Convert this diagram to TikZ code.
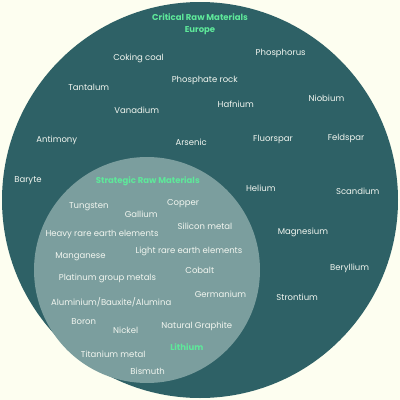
\documentclass[tikz,border=0pt]{standalone}
\usepackage{fontspec}
\setmainfont{Poppins}
\definecolor{bg}{HTML}{FDFEF0}
\definecolor{outer}{HTML}{2E6166}
\definecolor{inner}{HTML}{7B9E9E}
\definecolor{hl}{HTML}{5EE89A}
\definecolor{txt}{HTML}{F2F6F0}
\tikzset{
  mat/.style={text=txt, font=\fontsize{8.5}{11}\selectfont, inner sep=0pt},
  head/.style={text=hl, font=\bfseries\fontsize{8.5}{12}\selectfont, inner sep=0pt, align=center},
}
\begin{document}
\begin{tikzpicture}[x=1pt,y=-1pt]
\useasboundingbox (0,0) rectangle (400,400);
\fill[bg] (0,0) rectangle (400,400);
\fill[outer] (200,200) circle[radius=198];
\fill[inner] (147,270) circle[radius=113];
\node[head] (crm) at (200,24.5) {Critical Raw Materials\\Europe};
\node[mat] (coking) at (138.5,58.7) {Coking coal};
\node[mat] (phosphorus) at (280.7,53.7) {Phosphorus};
\node[mat] (tantalum) at (88.8,87.7) {Tantalum};
\node[mat] (phosrock) at (204.8,80.7) {Phosphate rock};
\node[mat] (hafnium) at (235.8,104.7) {Hafnium};
\node[mat] (niobium) at (326.5,98.3) {Niobium};
\node[mat] (vanadium) at (136.8,110.7) {Vanadium};
\node[mat] (antimony) at (56.8,140) {Antimony};
\node[mat] (arsenic) at (191.2,142.7) {Arsenic};
\node[mat] (fluorspar) at (273,139) {Fluorspar};
\node[mat] (feldspar) at (346,138.7) {Feldspar};
\node[mat] (baryte) at (28,181) {Baryte};
\node[mat] (helium) at (260.8,188) {Helium};
\node[mat] (scandium) at (357.7,191.3) {Scandium};
\node[mat] (magnesium) at (303,232) {Magnesium};
\node[mat] (beryllium) at (349.7,268) {Beryllium};
\node[mat] (strontium) at (297.2,297.7) {Strontium};
\node[head] (srm) at (147.8,181) {Strategic Raw Materials};
\node[mat] (tungsten) at (88.8,207) {Tungsten};
\node[mat] (gallium) at (141.2,214.3) {Gallium};
\node[mat] (copper) at (183,204) {Copper};
\node[mat] (silicon) at (205,226.3) {Silicon metal};
\node[mat] (heavy) at (102,234.3) {Heavy rare earth elements};
\node[mat] (manganese) at (80.5,256.7) {Manganese};
\node[mat] (light) at (189,251.3) {Light rare earth elements};
\node[mat] (cobalt) at (199.8,270.7) {Cobalt};
\node[mat] (platinum) at (107.5,278.3) {Platinum group metals};
\node[mat] (germanium) at (220.5,294.7) {Germanium};
\node[mat] (alu) at (111.2,302.7) {Aluminium/Bauxite/Alumina};
\node[mat] (boron) at (83.7,322) {Boron};
\node[mat] (nickel) at (125.7,330.7) {Nickel};
\node[mat] (graphite) at (196.8,326.3) {Natural Graphite};
\node[head] (lithium) at (186.8,347.3) {Lithium};
\node[mat] (titanium) at (113.2,354.3) {Titanium metal};
\node[mat] (bismuth) at (147.7,371) {Bismuth};
\end{tikzpicture}
\end{document}
